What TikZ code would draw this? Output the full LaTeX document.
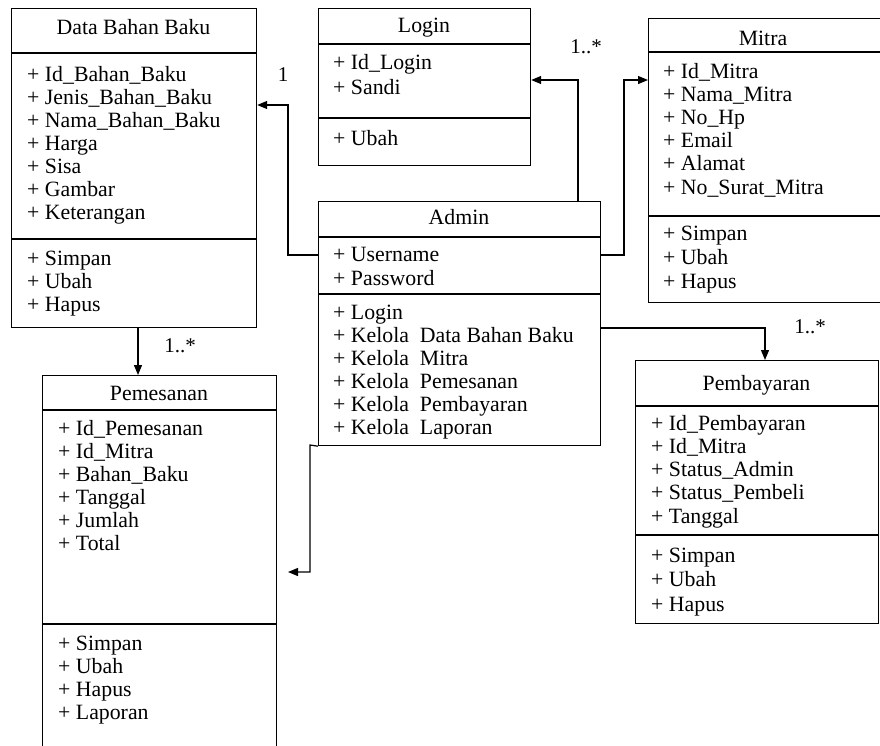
\documentclass[tikz,border=0pt]{standalone}
\usepackage{fontspec}
\setmainfont{Liberation Serif}
\usetikzlibrary{arrows.meta}
\newcommand\umllines[5]{%
  \foreach \t [count=\i] in {#5}
    \node[txt, anchor=base west] (#1\i) at (#2, {#3+(\i-1)*#4}) {\t};}
\begin{document}
\begin{tikzpicture}[x=1pt,y=-1pt,
  box/.style={draw, line width=1.2pt, inner sep=0pt, anchor=north west},
  txt/.style={inner sep=0pt, font=\fontsize{21.8}{23}\selectfont},
  sep/.style={line width=1.2pt},
  conn/.style={line width=1.2pt, -{Triangle[length=10pt,width=8pt]}},
  lbl/.style={inner sep=0pt, font=\fontsize{21}{23}\selectfont}]
\clip (0,0) rectangle (880,745);
\fill[white] (0,0) rectangle (880,745);

% Data Bahan Baku
\node[box, minimum width=245pt, minimum height=319pt] (dbb) at (11,8) {};
\draw[sep] (dbb.west |- 0,53) -- (dbb.east |- 0,53);
\draw[sep] (dbb.west |- 0,239) -- (dbb.east |- 0,239);
\node[txt, anchor=base] (dbbt) at (133.5,34) {Data Bahan Baku};
\umllines{dbba}{27}{81}{23}{+ Id\_Bahan\_Baku, + Jenis\_Bahan\_Baku, + Nama\_Bahan\_Baku, + Harga, + Sisa, + Gambar, + Keterangan}
\umllines{dbbm}{27}{265}{23}{+ Simpan, + Ubah, + Hapus}

% Login
\node[box, minimum width=212pt, minimum height=157pt] (login) at (318,8) {};
\draw[sep] (login.west |- 0,44) -- (login.east |- 0,44);
\draw[sep] (login.west |- 0,118) -- (login.east |- 0,118);
\node[txt, anchor=base] (logint) at (424,32) {Login};
\umllines{logina}{333}{69}{25}{+ Id\_Login, + Sandi}
\umllines{loginm}{333}{145}{23}{+ Ubah}

% Admin
\node[box, minimum width=282pt, minimum height=244pt] (admin) at (318,201) {};
\draw[sep] (admin.west |- 0,237) -- (admin.east |- 0,237);
\draw[sep] (admin.west |- 0,294) -- (admin.east |- 0,294);
\node[txt, anchor=base] (admint) at (459,224) {Admin};
\umllines{admina}{333}{261}{24}{+ Username, + Password}
\umllines{adminm}{333}{319}{23}{+ Login, + Kelola\ \ Data Bahan Baku, + Kelola\ \ Mitra, + Kelola\ \ Pemesanan, + Kelola\ \ Pembayaran, + Kelola\ \ Laporan}

% Mitra
\node[box, minimum width=250pt, minimum height=284pt] (mitra) at (648,18) {};
\draw[sep] (mitra.west |- 0,52) -- (mitra.east |- 0,52);
\draw[sep] (mitra.west |- 0,216) -- (mitra.east |- 0,216);
\node[txt, anchor=base] (mitrat) at (763,45) {Mitra};
\umllines{mitraa}{663}{78}{23.2}{+ Id\_Mitra, + Nama\_Mitra, + No\_Hp, + Email, + Alamat, + No\_Surat\_Mitra}
\umllines{mitram}{663}{240}{24}{+ Simpan, + Ubah, + Hapus}

% Pemesanan
\node[box, minimum width=234pt, minimum height=400pt] (pems) at (42,375) {};
\draw[sep] (pems.west |- 0,410) -- (pems.east |- 0,410);
\draw[sep] (pems.west |- 0,624) -- (pems.east |- 0,624);
\node[txt, anchor=base] (pemst) at (159,400) {Pemesanan};
\umllines{pemsa}{58}{435}{23}{+ Id\_Pemesanan, + Id\_Mitra, + Bahan\_Baku, + Tanggal, + Jumlah, + Total}
\umllines{pemsm}{58}{650}{23.3}{+ Simpan, + Ubah, + Hapus, + Laporan}

% Pembayaran
\node[box, minimum width=243pt, minimum height=263pt] (pemb) at (635,360) {};
\draw[sep] (pemb.west |- 0,406) -- (pemb.east |- 0,406);
\draw[sep] (pemb.west |- 0,535) -- (pemb.east |- 0,535);
\node[txt, anchor=base] (pembt) at (756.5,390) {Pembayaran};
\umllines{pemba}{651}{430}{23.3}{+ Id\_Pembayaran, + Id\_Mitra, + Status\_Admin, + Status\_Pembeli, + Tanggal}
\umllines{pembm}{651}{562}{24.5}{+ Simpan, + Ubah, + Hapus}

% Connectors
\draw[conn] (admin.west |- 0,255) -| (288,105) -- (dbb.east |- 0,105);
\draw[conn] (admin.north -| 578,0) |- (login.east |- 0,80);
\draw[conn] (admin.east |- 0,255) -| (624,80) -- (mitra.west |- 0,80);
\draw[conn] (admin.east |- 0,328) -| (pemb.north -| 765,0);
\draw[conn] (dbb.south -| 138,0) -- (pems.north -| 138,0);
\coordinate (pemsin) at (288,572);
\draw[conn] (admin.south west) -- (310,445) -- (310,572) -- (pemsin);

% Multiplicity labels
\node[lbl] (m1) at (283,75) {1};
\node[lbl] (m2) at (586,47) {1..*};
\node[lbl] (m3) at (180,346) {1..*};
\node[lbl] (m4) at (810,327) {1..*};
\end{tikzpicture}
\end{document}
